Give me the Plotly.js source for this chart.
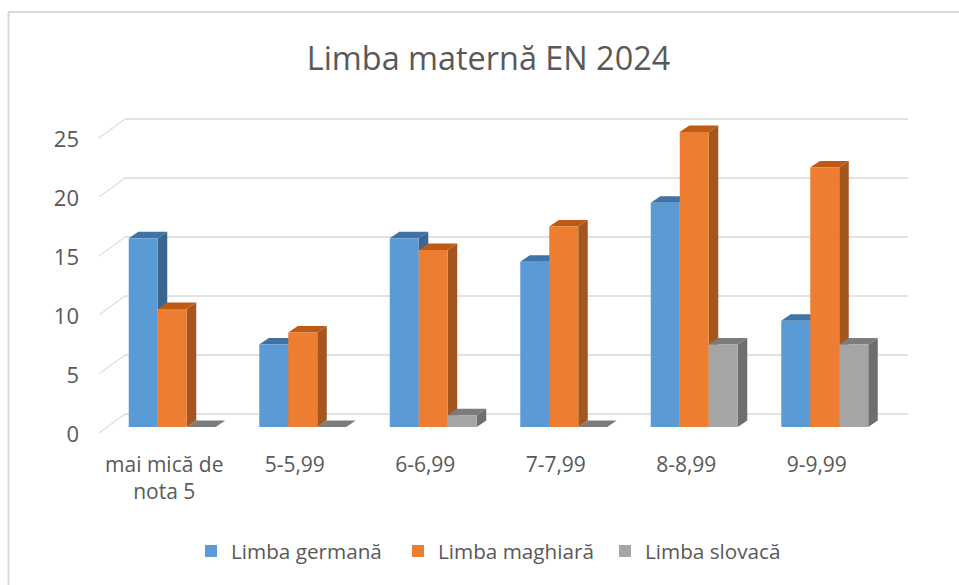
<!DOCTYPE html>
<html><head><meta charset="utf-8">
<script src="https://cdn.plot.ly/plotly-3.0.1.min.js"></script>
<style>html,body{margin:0;padding:0;background:#fff}</style></head>
<body><div id="c" style="width:959px;height:585px"></div>
<script>
const categories = ["mai mică de<br>nota 5","5-5,99","6-6,99","7-7,99","8-8,99","9-9,99"];
const seriesNames = ["Limba germană","Limba maghiară","Limba slovacă"];
const germana = [16,7,16,14,19,9];
const maghiara = [10,8,15,17,25,22];
const slovaca = [0,0,1,0,7,7];
const yTicks = [0,5,10,15,20,25];
const frontColors = ["#5B9BD5","#ED7D31","#A5A5A5"];
const sideColors = ["#3A6690","#A5561E","#6E6E6E"];
const topColors = ["#3F72A5","#BF5A14","#7C7C7C"];

const pxX = 130.5, pxY = 11.8;
const ux = p => p/pxX, uy = p => p/pxY;
const barW = 29, barDx = 9.5, barDy = 6.5;
const barShift = ux(8), floorDrop = uy(6), labelDrop = uy(7);
const series = [germana,maghiara,slovaca];
const xs = categories.map((_,i)=>i);

const shapes = [];
const xMin=-0.5, xMax=-0.5+ux(809), gridDx=ux(26), gridDy=uy(19);
yTicks.forEach(v=>{
  const y0=v-floorDrop, y1=y0+gridDy;
  shapes.push({type:'path',layer:'below',xref:'x',yref:'y',
    path:`M${xMin},${y0}L${xMin+gridDx},${y1}`,line:{color:'#DEDEDE',width:1.2}});
  shapes.push({type:'path',layer:'below',xref:'x',yref:'y',
    path:`M${xMin+gridDx},${y1}L${xMax},${y1}`,line:{color:'#D9D9D9',width:1.6}});
});
xs.forEach(i=>{
  series.forEach((vals,s)=>{
    const v=vals[i], l=i+barShift+ux(barW)*(s-1.5), r=l+ux(barW);
    const dx=ux(barDx), dy=uy(barDy);
    if(v>0) shapes.push({type:'path',layer:'below',xref:'x',yref:'y',line:{width:0},fillcolor:sideColors[s],
      path:`M${r},0L${r+dx},${dy}L${r+dx},${v+dy}L${r},${v}Z`});
    shapes.push({type:'path',layer:'below',xref:'x',yref:'y',line:{width:0},fillcolor:topColors[s],
      path:`M${l},${v}L${l+dx},${v+dy}L${r+dx},${v+dy}L${r},${v}Z`});
  });
});
// outer chart frame
const px2paperX = p => (p-99)/809, px2paperY = p => (435-p)/320;
shapes.push({type:'line',xref:'paper',yref:'paper',x0:px2paperX(8),x1:px2paperX(959),y0:px2paperY(12),y1:px2paperY(12),line:{color:'#D9D9D9',width:2}});
shapes.push({type:'line',xref:'paper',yref:'paper',x0:px2paperX(8.5),x1:px2paperX(8.5),y0:px2paperY(12),y1:px2paperY(585),line:{color:'#D9D9D9',width:2}});

const traces = series.map((vals,s)=>({
  type:'bar',name:seriesNames[s],x:xs.map(i=>i+barShift),y:vals,
  marker:{color:frontColors[s],line:{width:0}},hoverinfo:'name+y'
}));

const layout = {
  width:959,height:585,margin:{l:99,r:51,t:115,b:150},
  paper_bgcolor:'#fff',plot_bgcolor:'rgba(0,0,0,0)',
  barmode:'group',bargap:1-3*barW/pxX,bargroupgap:0,
  font:{family:'"Open Sans",sans-serif',color:'#595959'},
  title:{text:'Limba maternă EN 2024',x:px2paperX(488.5),xanchor:'center',xref:'paper',y:0.9,yanchor:'middle',font:{size:32.4,color:'#595959'}},
  xaxis:{range:[xMin,xMax],tickmode:'array',tickvals:xs,ticktext:categories,showgrid:false,zeroline:false,showline:false,ticks:'',tickfont:{size:21},ticklabelstandoff:15,automargin:false},
  yaxis:{range:[-8/pxY,312/pxY],tickmode:'array',tickvals:yTicks.map(v=>v-labelDrop),ticktext:yTicks.map(String),showgrid:false,zeroline:false,showline:false,ticks:'',tickfont:{size:22},ticklabelstandoff:19,automargin:false},
  legend:{orientation:'h',x:px2paperX(191),xanchor:'left',xref:'paper',y:px2paperY(551),yanchor:'middle',font:{size:20.7},entrywidth:162,entrywidthmode:'pixels',traceorder:'normal'},
  shapes:shapes,showlegend:true
};
Plotly.newPlot('c',traces,layout,{displayModeBar:false,staticPlot:true});
</script></body></html>
